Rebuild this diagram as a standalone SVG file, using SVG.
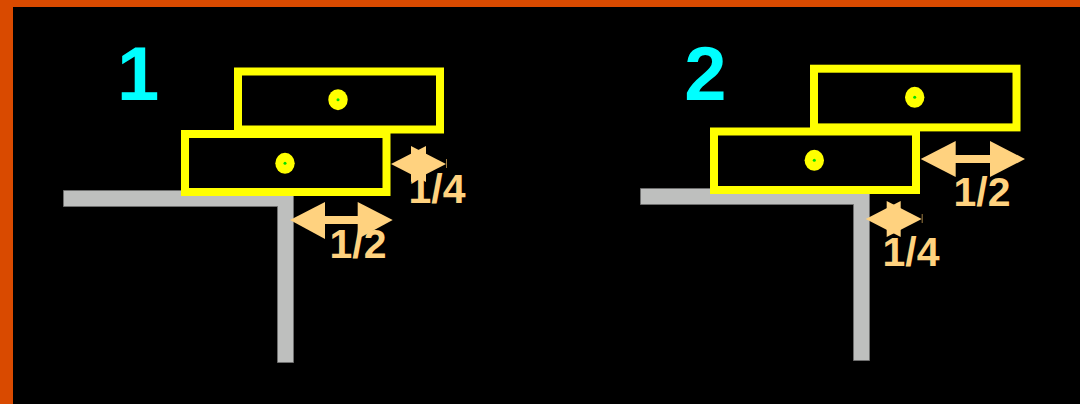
<svg xmlns="http://www.w3.org/2000/svg" width="1080" height="404" viewBox="0 0 1080 404">
<style>
.num{font-family:"Liberation Sans",Arial,sans-serif;font-weight:bold;font-size:76px;fill:#00ffff}
.lbl{font-family:"Liberation Sans",Arial,sans-serif;font-weight:bold;font-size:41px;fill:#ffd27f;text-anchor:middle}
.block{fill:none;stroke:#ffff00;stroke-width:8}
.dot{fill:#ffff00}
.ctr{fill:#00e000}
.ledge{fill:#bebfbe;stroke:#6e6e6e;stroke-width:1}
.arr{fill:#ffd27f}
.tick{stroke:#9c7a40;stroke-width:1}
</style>
<rect x="0" y="0" width="1080" height="404" fill="#d94a00"/>
<rect x="13" y="7" width="1067" height="397" fill="#000000"/>

<g id="panel1">
  <text class="num" x="117" y="100">1</text>
  <polygon id="ledge1" class="ledge" points="63.5,190.5 293.5,190.5 293.5,362.5 277.5,362.5 277.5,206.5 63.5,206.5"/>
  <g id="block1-top">
    <rect class="block" x="238" y="71.5" width="202" height="58"/>
    <ellipse class="dot" cx="338" cy="99.7" rx="9.7" ry="10.5"/>
    <circle class="ctr" cx="338" cy="99.7" r="1.5"/>
  </g>
  <g id="block1-bottom">
    <rect class="block" x="185" y="134" width="201.5" height="58"/>
    <ellipse class="dot" cx="285" cy="163.3" rx="9.7" ry="10.5"/>
    <circle class="ctr" cx="285" cy="163.3" r="1.5"/>
  </g>
</g>

<g id="panel2">
  <text class="num" x="705.5" y="100" text-anchor="middle">2</text>
  <polygon id="ledge2" class="ledge" points="640.5,188.5 869.5,188.5 869.5,360.5 853.5,360.5 853.5,204.5 640.5,204.5"/>
  <g id="block2-top">
    <rect class="block" x="814" y="68.7" width="202.5" height="58.7"/>
    <ellipse class="dot" cx="914.7" cy="97.3" rx="9.7" ry="10.5"/>
    <circle class="ctr" cx="914.7" cy="97.3" r="1.5"/>
  </g>
  <g id="block2-bottom">
    <rect class="block" x="714" y="131.5" width="202" height="58.5"/>
    <ellipse class="dot" cx="814.3" cy="160.3" rx="9.7" ry="10.5"/>
    <circle class="ctr" cx="814.3" cy="160.3" r="1.5"/>
  </g>
</g>

<g id="connectors">
  <!-- panel 1: 1/2 -->
  <g id="dim1-half">
    <polygon class="arr" points="290,220 325,202 325,239"/>
    <polygon class="arr" points="392.7,220 357.7,202 357.7,239"/>
    <rect class="arr" x="320" y="216" width="42" height="8"/>
    <text class="lbl" x="358" y="258.3">1/2</text>
  </g>
  <!-- panel 1: 1/4 -->
  <g id="dim1-quarter">
    <polygon class="arr" points="391,164 426,146 426,182"/>
    <polygon class="arr" points="446,164 411,146 411,182"/>
    <line class="tick" x1="446.5" y1="159" x2="446.5" y2="168"/>
    <text class="lbl" x="437" y="203.3">1/4</text>
  </g>
  <!-- panel 2: 1/2 -->
  <g id="dim2-half">
    <polygon class="arr" points="920.7,159 955.7,141 955.7,177"/>
    <polygon class="arr" points="1025,159 990,141 990,177"/>
    <rect class="arr" x="950" y="155" width="45" height="8"/>
    <text class="lbl" x="982" y="205.7">1/2</text>
  </g>
  <!-- panel 2: 1/4 -->
  <g id="dim2-quarter">
    <polygon class="arr" points="865.7,219 900.7,201 900.7,237"/>
    <polygon class="arr" points="921.7,219 886.7,201 886.7,237"/>
    <line class="tick" x1="922.2" y1="214" x2="922.2" y2="223"/>
    <text class="lbl" x="911" y="266">1/4</text>
  </g>
</g>
</svg>
